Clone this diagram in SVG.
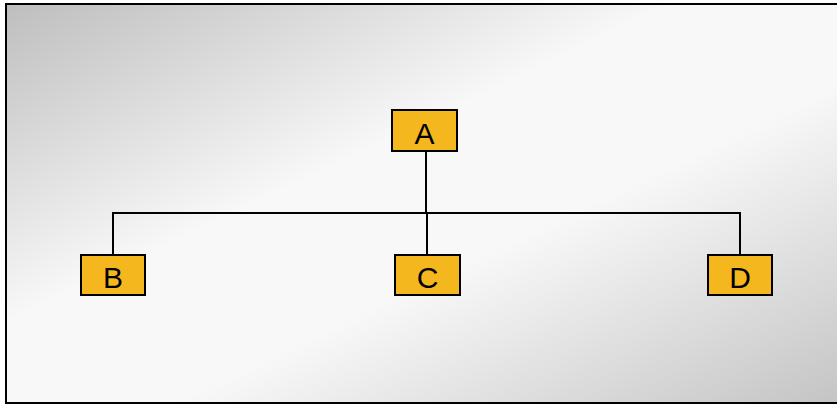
<svg xmlns="http://www.w3.org/2000/svg" width="837" height="405" viewBox="0 0 837 405">
<defs>
<linearGradient id="bg" x1="0" y1="0" x2="1" y2="1">
<stop offset="0" stop-color="#bebebe"/>
<stop offset="0.4" stop-color="#f8f8f8"/>
<stop offset="0.6" stop-color="#f8f8f8"/>
<stop offset="1" stop-color="#c4c4c4"/>
</linearGradient>
</defs>
<style>
.box{fill:#F5B71E;stroke:#000;stroke-width:2}
.lbl{font-family:"Liberation Sans",Arial,sans-serif;font-size:30px;fill:#000;text-anchor:middle}
.con{fill:none;stroke:#000;stroke-width:2}
</style>
<rect x="0" y="0" width="837" height="405" fill="#fff"/>
<rect x="6" y="4" width="835" height="399" fill="url(#bg)" stroke="#000" stroke-width="2"/>
<g id="connectors">
<path class="con" d="M426 151 V213"/>
<path class="con" d="M113 255 V213 H740 V255"/>
<path class="con" d="M427 213 V255"/>
</g>
<g id="A"><rect class="box" x="392" y="110" width="65" height="41"/><text class="lbl" x="424.5" y="144">A</text></g>
<g id="B"><rect class="box" x="81" y="255" width="64" height="40"/><text class="lbl" x="113" y="288">B</text></g>
<g id="C"><rect class="box" x="395" y="255" width="65" height="40"/><text class="lbl" x="427.5" y="288">C</text></g>
<g id="D"><rect class="box" x="708" y="255" width="64" height="40"/><text class="lbl" x="740" y="288">D</text></g>
</svg>
